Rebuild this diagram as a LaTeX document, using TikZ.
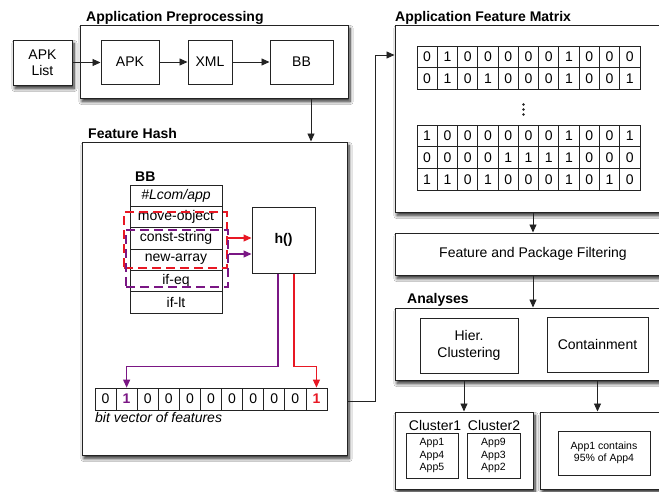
\documentclass[tikz,border=0pt]{standalone}
\usepackage{fontspec}
\setmainfont{Liberation Sans}
\usetikzlibrary{arrows.meta,shadows.blur,calc}
\definecolor{hashred}{RGB}{232,24,36}
\definecolor{hashpurple}{RGB}{122,22,132}
\definecolor{edge}{RGB}{35,35,35}
\tikzset{
  box/.style={draw=edge, line width=1pt, fill=white, inner sep=1pt, align=center},
  shbox/.style={box, blur shadow={shadow xshift=2pt, shadow yshift=-3.5pt,
      shadow blur radius=3.2pt, shadow blur steps=8, shadow opacity=85}},
  grouptitle/.style={font=\fontsize{14}{16.5}\selectfont\bfseries, anchor=base west, inner sep=0pt},
  cell/.style={draw=edge, line width=0.8pt, fill=white, inner sep=0pt},
  small/.style={font=\fontsize{10.5}{12.5}\selectfont},
  link/.style={draw=edge, line width=0.9pt, -{Triangle[length=8pt,width=7pt]}},
  redlink/.style={draw=hashred, line width=1.1pt, -{Triangle[length=8pt,width=7pt]}},
  purplelink/.style={draw=hashpurple, line width=1.1pt, -{Triangle[length=8pt,width=7pt]}},
  dashbox/.style={line width=2pt, dash pattern=on 9pt off 5pt, inner sep=0pt},
}
\begin{document}
\begin{tikzpicture}[x=1pt, y=-1pt, font=\fontsize{14}{16.5}\selectfont]
\useasboundingbox (0,0) rectangle (659,491);
\clip (0,0) rectangle (659,491);
\fill[white] (0,0) rectangle (659,491);

% ---------- Application preprocessing ----------
\node[grouptitle] (preptitle) at (86,21) {Application Preprocessing};
\node[shbox, minimum width=268, minimum height=73] (prep) at (214,61.5) {};
\node[shbox, minimum width=59, minimum height=45] (apklist) at (42.5,62.5) {APK\\List};
\node[box, minimum width=58, minimum height=44] (apk) at (130,62) {APK};
\node[box, minimum width=44, minimum height=44] (xml) at (210,62) {XML};
\node[box, minimum width=63, minimum height=44] (bb) at (301.5,62) {BB};
\draw[link] (apklist.east) -- (apklist.east -| apk.west);
\draw[link] (apk) -- (xml);
\draw[link] (xml) -- (bb);

% ---------- Feature hash ----------
\node[grouptitle] (hashtitle) at (88,138) {Feature Hash};
\node[shbox, minimum width=265, minimum height=313] (fhash) at (214.5,298.5) {};
\draw[link] ($(prep.south)+(97,0)$) coordinate (pd) -- (pd |- fhash.north);

\node[grouptitle] (bbtitle) at (135,181) {BB};
\foreach \txt [count=\i] in {{\itshape \#Lcom/app},move-object,const-string,new-array,if-eq,if-lt}
  \node[cell, minimum width=92, minimum height=21.33] (li-\i) at (176,195.67+21.33*\i-21.33) {\txt};

\node[dashbox, draw=hashred, minimum width=103, minimum height=56] (redrect) at (175.5,240) {};
\node[dashbox, draw=hashpurple, minimum width=102, minimum height=57] (purplerect) at (177,258.5) {};

\node[box, minimum width=63, minimum height=66, font=\fontsize{14}{16.5}\selectfont\bfseries] (hbox) at (283.5,240) {h()};
\coordinate (redin) at ($(hbox.west)+(0,-2)$);
\coordinate (purplein) at ($(hbox.west)+(0,14)$);
\draw[redlink] (redrect.east |- redin) -- (redin);
\draw[purplelink] (purplerect.east |- purplein) -- (purplein);

% bit vector
\foreach \b [count=\i from 0] in {0,1,0,0,0,0,0,0,0,0,1}
  \node[cell, minimum width=21.09, minimum height=22] (bv-\i) at (95+10.545+21.09*\i,399) {\b};
\node[cell, minimum width=21.09, minimum height=22, text=hashpurple, font=\fontsize{14}{16.5}\selectfont\bfseries] at (bv-1) {1};
\node[cell, minimum width=21.09, minimum height=22, text=hashred, font=\fontsize{14}{16.5}\selectfont\bfseries] at (bv-10) {1};
\node[anchor=base west, inner sep=0pt, font=\fontsize{14}{16.5}\selectfont\itshape] (bvlabel) at (95,422) {bit vector of features};

\draw[purplelink] ($(hbox.south)+(-5.5,0)$) -- ++(0,93) -| (bv-1.north);
\draw[redlink] ($(hbox.south)+(10.5,0)$) -- ++(0,93) -| (bv-10.north);

% ---------- Application feature matrix ----------
\node[grouptitle] (mattitle) at (395,21) {Application Feature Matrix};
\node[shbox, minimum width=276, minimum height=187] (matrix) at (533,118.5) {};
\draw[link] ($(fhash.east)+(0,102.5)$) -- ++(28,0) |- ($(matrix.west)+(0,-63.5)$);

\foreach \row/\yc in {{0,1,0,0,0,0,0,1,0,0,0}/56.75, {0,1,0,1,0,0,0,1,0,0,1}/78.25,
                      {1,0,0,0,0,0,0,1,0,0,1}/135.8, {0,0,0,0,1,1,1,1,0,0,0}/157.5,
                      {1,1,0,1,0,0,0,1,0,1,0}/179.2}
  \foreach \b [count=\i from 0] in \row
    \node[cell, minimum width=20.27, minimum height=21.6] at (417+10.135+20.27*\i,\yc) {\b};
\foreach \d in {0,5,10}
  \fill[edge] (523.5,104.5+\d) circle (1.4);

% ---------- Filtering and analyses ----------
\node[shbox, minimum width=276, minimum height=42] (filter) at (533,254) {Feature and Package Filtering};
\draw[link] (matrix.south) -- (filter.north);

\node[grouptitle] (antitle) at (407,303) {Analyses};
\node[shbox, minimum width=276, minimum height=72] (analyses) at (533,344) {};
\draw[link] (filter.south) -- (analyses.north);
\node[box, minimum width=98, minimum height=55] (hier) at (469,345.5) {Hier.\\Clustering};
\node[box, minimum width=101, minimum height=55] (contain) at (597.5,344.5) {Containment};

\node[shbox, minimum width=138, minimum height=77] (clusters) at (464,450.5) {};
\node[shbox, minimum width=131, minimum height=77] (result) at (605.5,450.5) {};
\draw[link] (clusters.north |- analyses.south) -- (clusters.north);
\draw[link] (contain.south |- analyses.south) -- (contain.south |- result.north);

\node[anchor=base, inner sep=0pt] (c1title) at (435,430) {Cluster1};
\node[anchor=base, inner sep=0pt] (c2title) at (494,430) {Cluster2};
\node[box, small, minimum width=52, minimum height=45] (c1) at (432,455.5) {App1\\App4\\App5};
\node[box, small, minimum width=53, minimum height=45] (c2) at (493.5,455.5) {App9\\App3\\App2};
\node[box, small, minimum width=92, minimum height=44] (appbox) at (604,453) {App1 contains\\95\% of App4};
\end{tikzpicture}
\end{document}
